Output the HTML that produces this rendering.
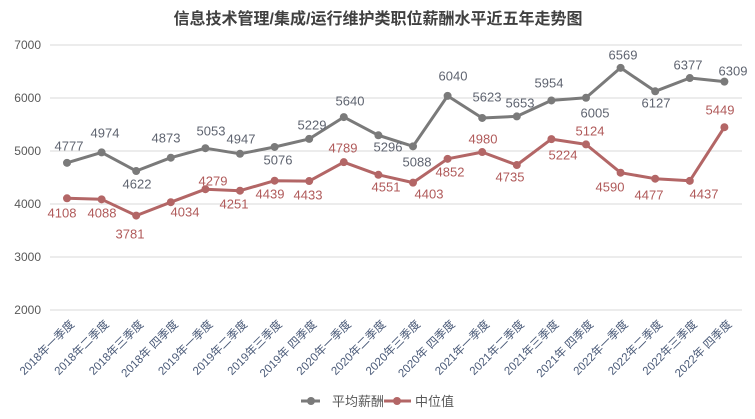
<!DOCTYPE html>
<html><head><meta charset="utf-8"><style>
html,body{margin:0;padding:0;background:#fff;width:755px;height:419px;overflow:hidden}
svg{display:block;font-family:"Liberation Sans","Noto Sans CJK SC",sans-serif}
</style></head><body>
<svg width="755" height="419" viewBox="0 0 755 419" xmlns="http://www.w3.org/2000/svg">
<text x="378" y="24" text-anchor="middle" font-size="16" font-weight="bold" fill="#404040">信息技术管理/集成/运行维护类职位薪酬水平近五年走势图</text>
<g stroke="#d9d9d9" stroke-width="1">
<line x1="50" x2="742" y1="45" y2="45"/><line x1="50" x2="742" y1="98" y2="98"/><line x1="50" x2="742" y1="151" y2="151"/><line x1="50" x2="742" y1="204" y2="204"/><line x1="50" x2="742" y1="257" y2="257"/><line x1="50" x2="742" y1="310" y2="310"/>
</g>
<g font-size="12" fill="#595959" text-anchor="end">
<text x="41" y="49">7000</text><text x="41" y="102">6000</text><text x="41" y="155">5000</text><text x="41" y="208">4000</text><text x="41" y="261">3000</text><text x="41" y="314">2000</text>
</g>
<g id="chart"></g>
</svg>
<script>
const avg=[4777,4974,4622,4873,5053,4947,5076,5229,5640,5296,5088,6040,5623,5653,5954,6005,6569,6127,6377,6309];
const med=[4108,4088,3781,4034,4279,4251,4439,4433,4789,4551,4403,4852,4980,4735,5224,5124,4590,4477,4437,5449];
const ga=[[69,146],[105,133],[137,184],[166,138],[211,131],[241,139],[278,160],[312,125],[350,101],[388,147],[417,162],[453,76],[487,97],[520,103],[549,83],[595,113],[623,55],[656,103],[688,65],[733,71]];
const gm=[[62,213],[102,213],[130,234],[185,212],[213,181],[234,204],[270,194],[308,195],[343,148],[386,187],[429,194],[450,172],[483,139],[510,177],[563,155],[590,131],[610,187],[649,195],[704,194],[720,110]];
const X=i=>67+i*34.6, Y=v=>151-(v-5000)*0.053;
const q=["一","二","三"," 四"];
let s="";
function series(d,c){let p=d.map((v,i)=>X(i).toFixed(1)+","+Y(v).toFixed(1)).join(" ");
s+=`<polyline points="${p}" fill="none" stroke="${c}" stroke-width="3" stroke-linejoin="round"/>`;
d.forEach((v,i)=>s+=`<circle cx="${X(i)}" cy="${Y(v)}" r="4" fill="${c}"/>`);}
series(avg,"#7a7a7a");series(med,"#b36666");
avg.forEach((v,i)=>s+=`<text x="${ga[i][0]}" y="${ga[i][1]+4.5}" text-anchor="middle" font-size="13" fill="#5f6470">${v}</text>`);
med.forEach((v,i)=>s+=`<text x="${gm[i][0]}" y="${gm[i][1]+4.5}" text-anchor="middle" font-size="13" fill="#b05a5a">${v}</text>`);
for(let i=0;i<20;i++){let x=X(i)+8;s+=`<text transform="translate(${x},325) rotate(-45)" text-anchor="end" font-size="11.5" fill="#4a5a78" xml:space="preserve">${2018+Math.floor(i/4)}年${q[i%4]}季度</text>`;}
s+=`<line x1="301" x2="320" y1="401" y2="401" stroke="#7a7a7a" stroke-width="3"/><circle cx="311" cy="401" r="4" fill="#7a7a7a"/><text x="332" y="406" font-size="13" fill="#595959">平均薪酬</text>`;
s+=`<line x1="384" x2="411" y1="401" y2="401" stroke="#b36666" stroke-width="3"/><circle cx="397" cy="401" r="4" fill="#b36666"/><text x="415" y="406" font-size="13" fill="#595959">中位值</text>`;
document.getElementById("chart").innerHTML=s;
</script>
</body></html>
